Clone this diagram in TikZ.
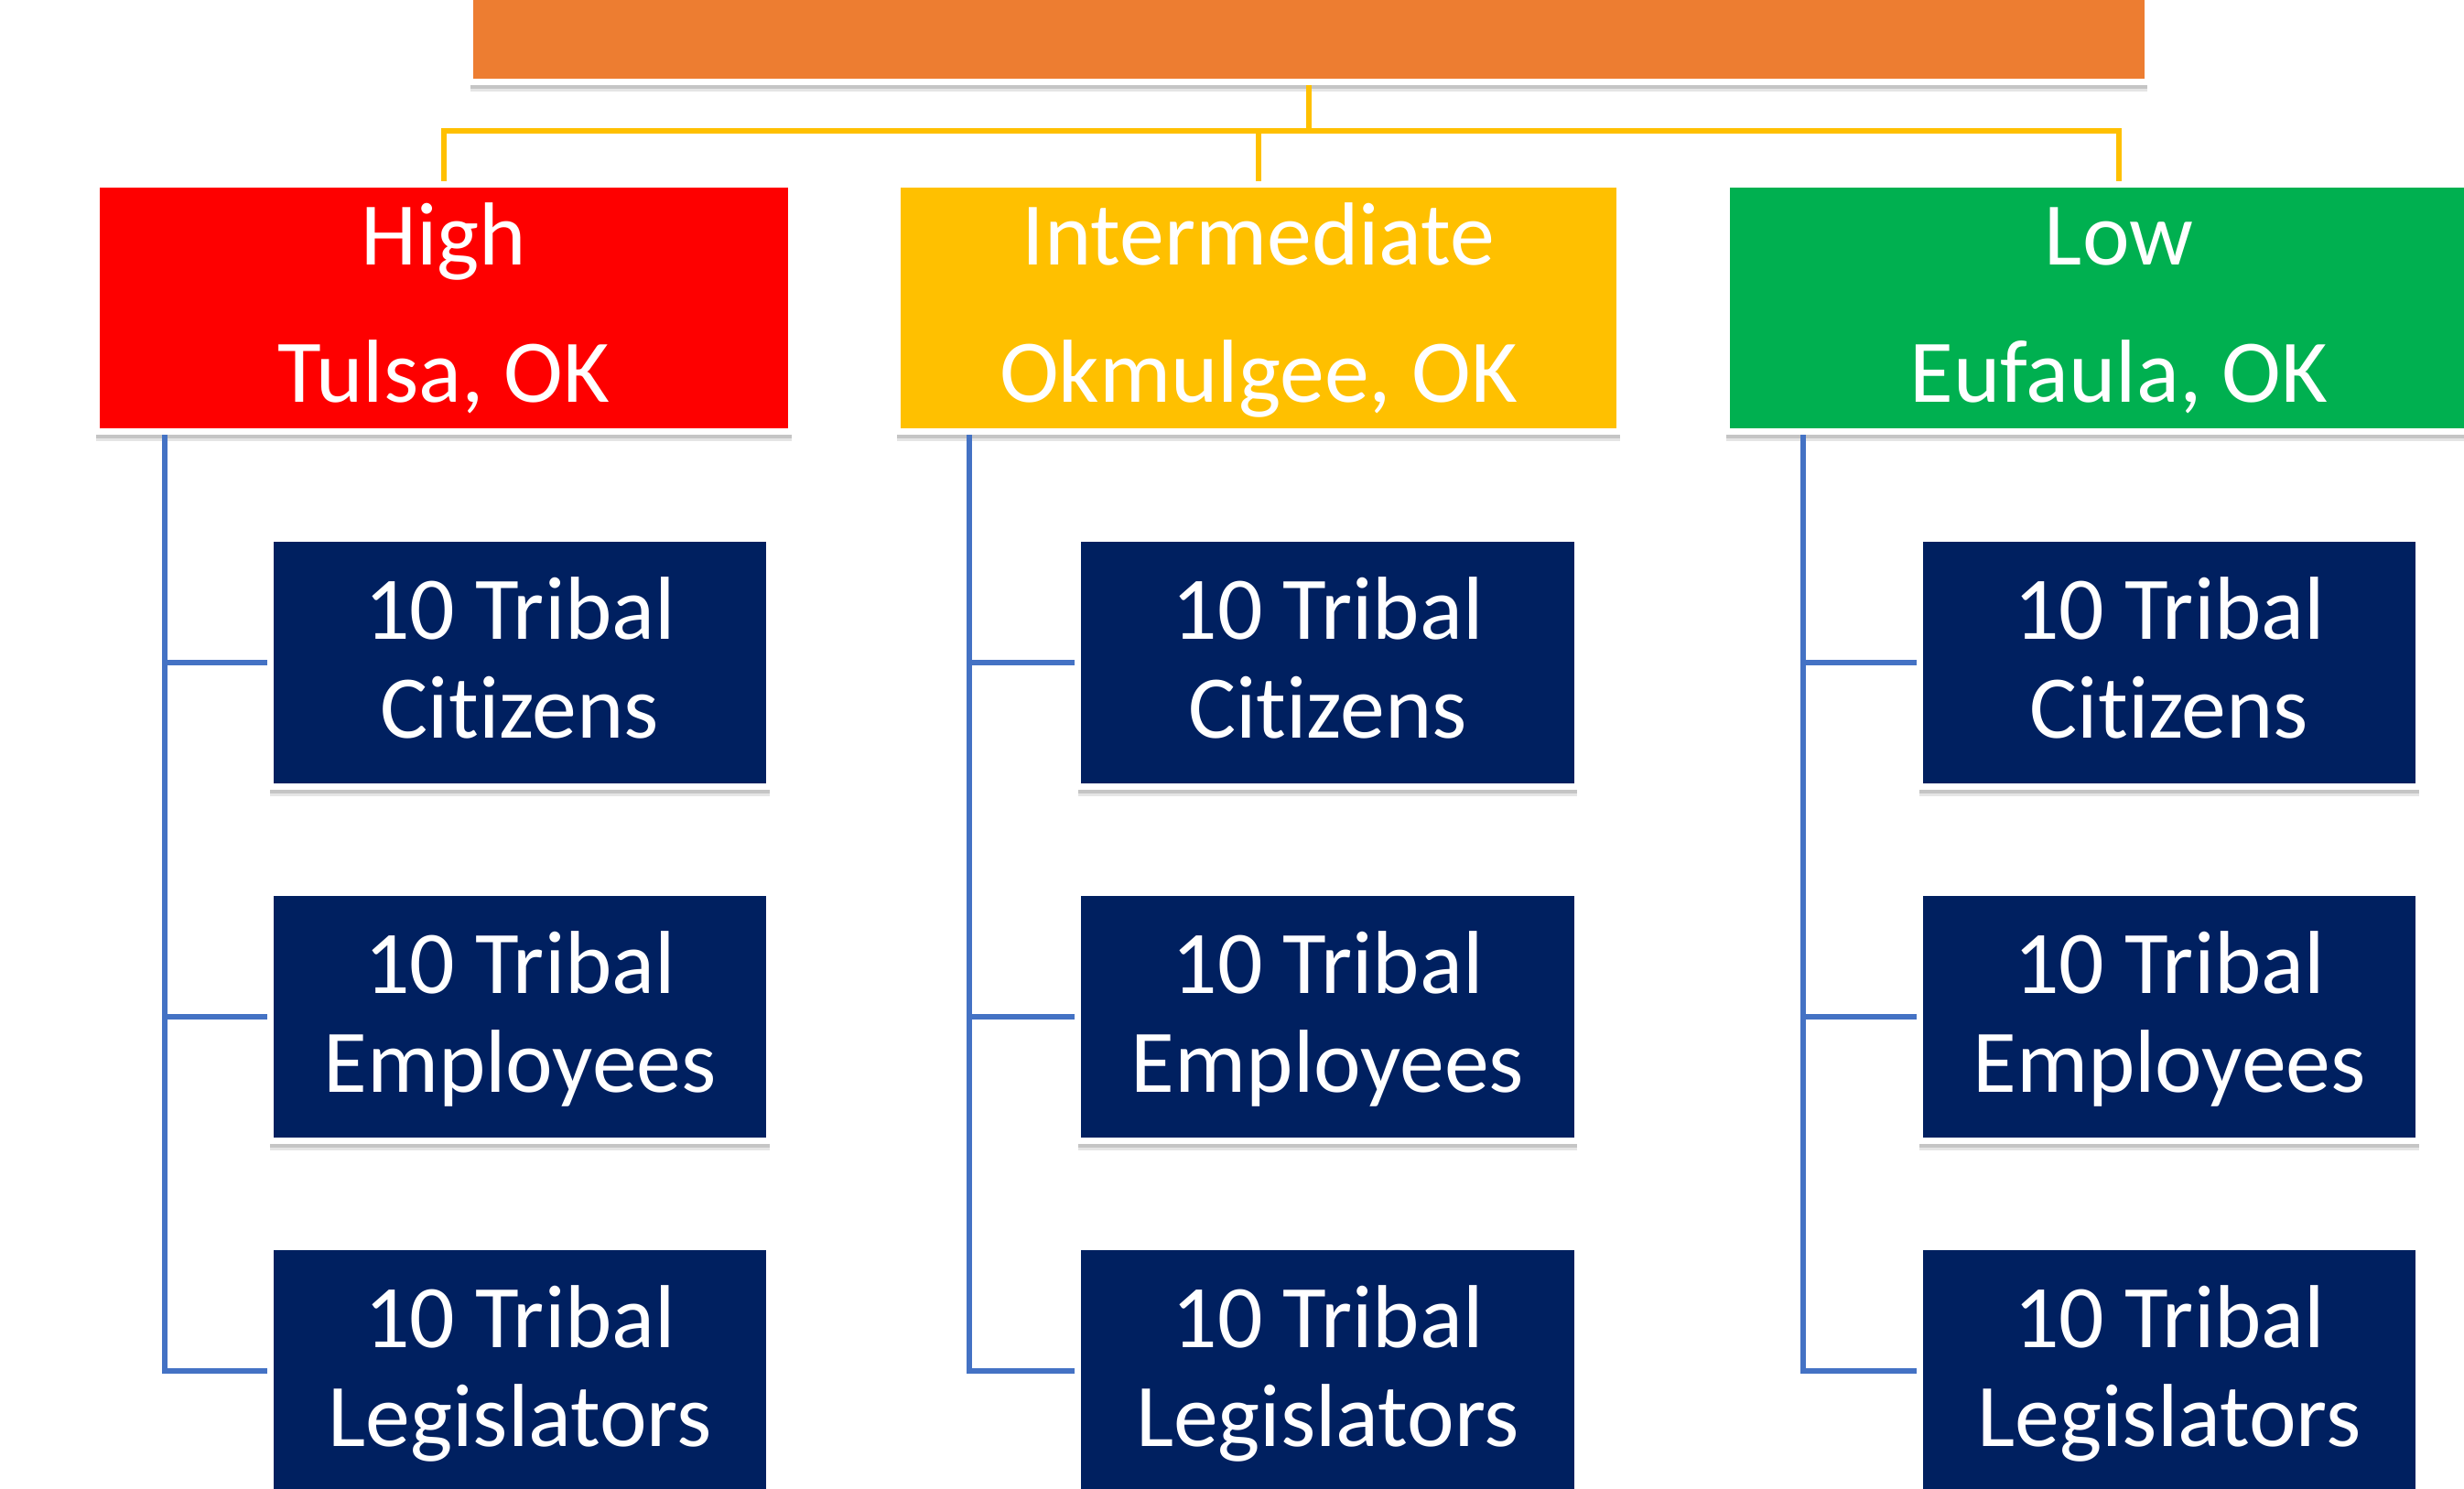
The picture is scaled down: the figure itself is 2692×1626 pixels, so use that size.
\documentclass[tikz,border=0pt]{standalone}
\usepackage{fontspec}
\setmainfont{Carlito}[Ligatures=NoCommon]
\usetikzlibrary{shadows}
\definecolor{orangeC}{HTML}{ED7D31}
\definecolor{redC}{HTML}{FE0000}
\definecolor{yellowC}{HTML}{FFC000}
\definecolor{greenC}{HTML}{00B050}
\definecolor{navyC}{HTML}{002060}
\definecolor{blueC}{HTML}{4472C4}
\begin{document}
\begin{tikzpicture}[x=0.01cm,y=-0.01cm,
  boxbase/.style={rectangle, draw=white, line width=0.07cm, inner sep=0pt,
    drop shadow={shadow xshift=0cm, shadow yshift=-0.10cm, opacity=0.10, fill=black},
    drop shadow={shadow xshift=0cm, shadow yshift=-0.07cm, opacity=0.14, fill=black}},
  hdrbox/.style={boxbase, minimum height=2.70cm},
  navybox/.style={boxbase, fill=navyC, minimum width=5.45cm, minimum height=2.71cm},
  boxtxt/.style={text=white, font=\fontsize{27.8pt}{30pt}\selectfont, inner sep=0pt, anchor=base},
  yconn/.style={draw=yellowC, line width=0.052cm},
  bconn/.style={draw=blueC, line width=0.052cm, line join=miter}]
\useasboundingbox (0,0) rectangle (2692,1626);
\clip (0,0) rectangle (2692,1626);

% top box
\node[boxbase, fill=orangeC, minimum width=18.31cm, minimum height=1.93cm] (top) at (1430,-7) {};

% header boxes
\node[hdrbox, fill=redC, minimum width=7.59cm] (high) at (485,336.5) {};
\node[hdrbox, fill=yellowC, minimum width=7.89cm] (mid) at (1375,336.5) {};
\node[hdrbox, fill=greenC, minimum width=8.57cm] (low) at (2315,336.5) {};

\node[boxtxt] (highA) at (485,289) {High};
\node[boxtxt] (highB) at (485,439) {Tulsa, OK};
\node[boxtxt] (midA) at (1375,289) {Intermediate};
\node[boxtxt] (midB) at (1375,439) {Okmulgee, OK};
\node[boxtxt] (lowA) at (2315,289) {Low};
\node[boxtxt] (lowB) at (2315,439) {Eufaula, OK};

% navy boxes
\node[navybox] (cA) at (568,724) {};
\node[navybox] (eA) at (568,1111) {};
\node[navybox] (lA) at (568,1498) {};
\node[navybox] (cB) at (1450.5,724) {};
\node[navybox] (eB) at (1450.5,1111) {};
\node[navybox] (lB) at (1450.5,1498) {};
\node[navybox] (cC) at (2370,724) {};
\node[navybox] (eC) at (2370,1111) {};
\node[navybox] (lC) at (2370,1498) {};

\foreach \n/\x in {A/568, B/1450.5, C/2370}{
  \node[boxtxt] (cT1\n) at (\x,698) {10 Tribal};
  \node[boxtxt] (cT2\n) at (\x,806) {Citizens};
  \node[boxtxt] (eT1\n) at (\x,1085) {10 Tribal};
  \node[boxtxt] (eT2\n) at (\x,1193) {Employees};
  \node[boxtxt] (lT1\n) at (\x,1472) {10 Tribal};
  \node[boxtxt] (lT2\n) at (\x,1580) {Legislators};
}

% yellow connectors
\coordinate (bus) at (0,143);
\draw[yconn] (top.south) -- (top.south |- bus);
\draw[yconn] (high.north) -- (high.north |- bus) -- (low.north |- bus) -- (low.north);
\draw[yconn] (mid.north) -- (mid.north |- bus);

% blue connectors
\coordinate (vA) at (180,0);
\coordinate (vB) at (1059,0);
\coordinate (vC) at (1970,0);
\draw[bconn] (vA |- high.south) |- (lA.west);
\draw[bconn] (vA |- cA.west) -- (cA.west);
\draw[bconn] (vA |- eA.west) -- (eA.west);
\draw[bconn] (vB |- mid.south) |- (lB.west);
\draw[bconn] (vB |- cB.west) -- (cB.west);
\draw[bconn] (vB |- eB.west) -- (eB.west);
\draw[bconn] (vC |- low.south) |- (lC.west);
\draw[bconn] (vC |- cC.west) -- (cC.west);
\draw[bconn] (vC |- eC.west) -- (eC.west);
\end{tikzpicture}
\end{document}
